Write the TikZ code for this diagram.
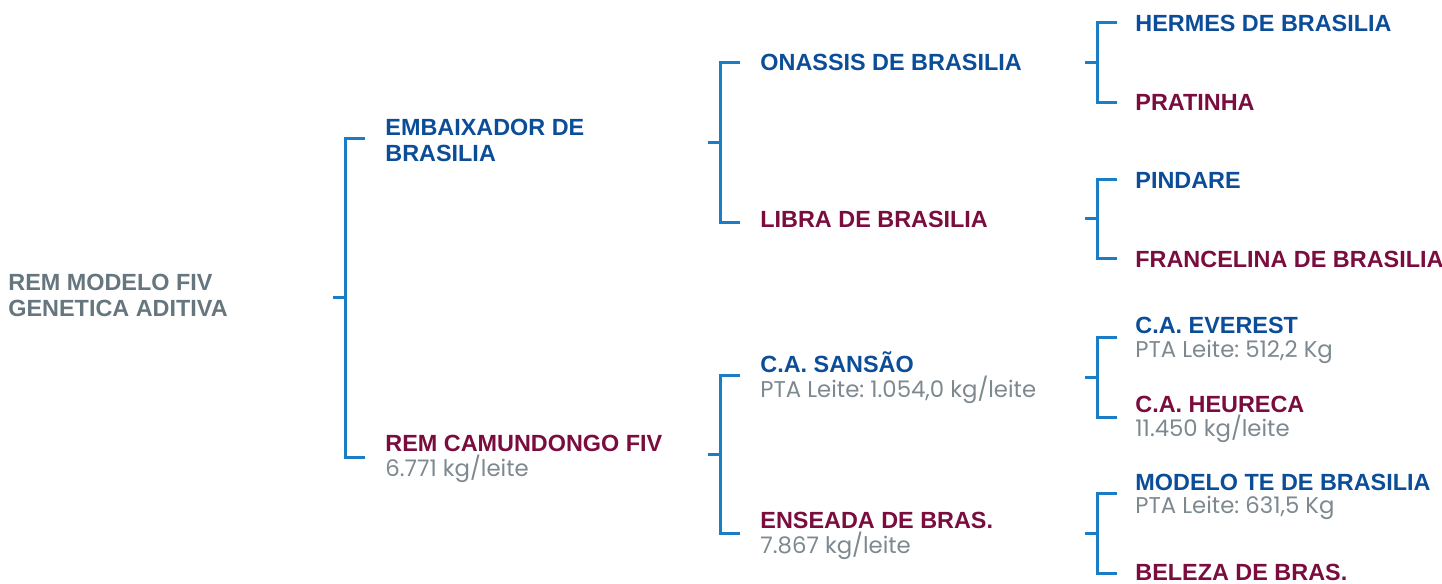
\documentclass[tikz,border=0pt]{standalone}
\usepackage{fontspec}
\setmainfont{Liberation Sans}
\newfontfamily\pop{Poppins}
\usetikzlibrary{calc}
\frenchspacing
\definecolor{cblue}{HTML}{0B4D98}
\definecolor{cred}{HTML}{7A0C3E}
\definecolor{cgray}{HTML}{66767E}
\definecolor{cval}{HTML}{7D898F}
\definecolor{cline}{HTML}{1B7DC5}
\tikzset{
  x=0.5pt, y=-0.5pt,
  nm/.style={anchor=base west, inner sep=0pt, font=\fontsize{11.7}{12.8}\selectfont\bfseries},
  sire/.style={nm, text=cblue},
  dam/.style={nm, text=cred},
  rootn/.style={nm, text=cgray, align=left},
  val/.style={anchor=base west, inner sep=0pt, font=\pop\fontsize{11.4}{12}\selectfont\frenchspacing, text=cval},
  br/.style={draw=cline, line width=1.5pt, line cap=butt, line join=miter},
}
\newcommand{\brk}[3]{% vertical x, top y, bottom y
  \draw[br] (#1+20,#2) -- (#1,#2) -- (#1,#3) -- (#1+20,#3);
  \draw[br] (#1,{(#2+#3)/2}) -- (#1-12,{(#2+#3)/2});
}
\begin{document}
\begin{tikzpicture}
\useasboundingbox (0,0) rectangle (1442,584);
% root
\node[rootn] (root) at (8,316) {REM MODELO FIV\\GENETICA ADITIVA};
% level 1
\node[sire, align=left] (emb) at (385,161) {EMBAIXADOR DE\\BRASILIA};
\node[dam] (cam) at (385,451) {REM CAMUNDONGO FIV};
\node[val] (camv) at (385,476) {6.771 kg/leite};
% level 2
\node[sire] (ona) at (760,70) {ONASSIS DE BRASILIA};
\node[dam] (lib) at (760,227) {LIBRA DE BRASILIA};
\node[sire] (san) at (760,372) {C.A. SANSÃO};
\node[val] (sanv) at (760,397) {PTA Leite: 1.054,0 kg/leite};
\node[dam] (ens) at (760,528) {ENSEADA DE BRAS.};
\node[val] (ensv) at (760,553) {7.867 kg/leite};
% level 3
\node[sire] (her) at (1135,31) {HERMES DE BRASILIA};
\node[dam] (pra) at (1135,110) {PRATINHA};
\node[sire] (pin) at (1135,188) {PINDARE};
\node[dam] (fra) at (1135,267) {FRANCELINA DE BRASILIA};
\node[sire] (eve) at (1135,333) {C.A. EVEREST};
\node[val] (evev) at (1135,357) {PTA Leite: 512,2 Kg};
\node[dam] (heu) at (1135,412) {C.A. HEURECA};
\node[val] (heuv) at (1135,436) {11.450 kg/leite};
\node[sire] (mod) at (1135,490) {MODELO TE DE BRASILIA};
\node[val] (modv) at (1135,513) {PTA Leite: 631,5 Kg};
\node[dam] (bel) at (1135,580) {BELEZA DE BRAS.};
% brackets
\brk{345}{138}{457}
\brk{720}{62}{222}
\brk{720}{375}{533}
\brk{1097}{22}{102}
\brk{1097}{179}{258}
\brk{1097}{337}{417}
\brk{1097}{493}{573}
\end{tikzpicture}
\end{document}
